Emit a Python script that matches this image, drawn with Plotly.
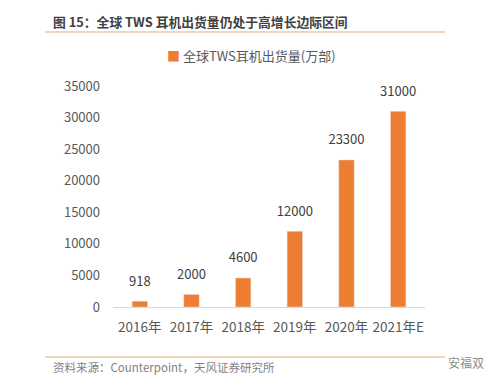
import plotly.graph_objects as go

categories = ["2016年", "2017年", "2018年", "2019年", "2020年", "2021年E"]
values = [918, 2000, 4600, 12000, 23300, 31000]
series_name = "全球TWS耳机出货量(万部)"
tick_vals = [0, 5000, 10000, 15000, 20000, 25000, 30000, 35000]
tick_text = [str(v) for v in tick_vals]

FONT = "Noto Sans CJK SC"
OFF = 8  # page body margin
W, H = 500, 383
L = 113 - OFF
T = 86 - OFF
B = H - (307 - OFF)
R = W - (425 - OFF)
pw, ph = W - L - R, H - T - B

def px(x):
    return (x - OFF - L) / pw

def py(y):
    return (H - B - (y - OFF)) / ph

fig = go.Figure()
fig.add_trace(go.Bar(
    x=categories, y=values, name=series_name,
    marker_color="#ED7D31", width=0.3, showlegend=False,
))
fig.add_trace(go.Scatter(
    x=categories, y=values, mode="markers+text",
    marker=dict(size=18, opacity=0), text=[str(v) for v in values],
    textposition="top center", textfont=dict(family=FONT, size=13, color="#404040"),
    cliponaxis=False, showlegend=False, hoverinfo="skip",
))

fig.update_layout(
    width=W, height=H, autosize=False,
    margin=dict(l=L, r=R, t=T, b=B),
    paper_bgcolor="white", plot_bgcolor="white",
    font=dict(family=FONT, color="#595959"),
    xaxis=dict(showgrid=False, showline=True, linecolor="#D9D9D9", linewidth=1,
               ticks="", ticklabelstandoff=8, tickfont=dict(family=FONT, size=13.5, color="#595959")),
    yaxis=dict(range=[0, 35000], tickvals=tick_vals, ticktext=tick_text, showgrid=False, zeroline=False,
               showline=False, ticks="", ticklabelstandoff=12,
               tickfont=dict(family=FONT, size=13, color="#595959")),
)

fig.add_annotation(text="<span style='color:#ED7D31'>■</span> " + series_name,
                   xref="paper", yref="paper", x=px(165), y=py(55), xanchor="left", yanchor="middle",
                   showarrow=False, font=dict(family=FONT, size=13, color="#595959"))
fig.add_annotation(text="<b>图 15：全球 TWS 耳机出货量仍处于高增长边际区间</b>",
                   xref="paper", yref="paper", x=px(51), y=py(22), xanchor="left", yanchor="middle",
                   showarrow=False, font=dict(family=FONT, size=12.8, color="#404040"))
fig.add_shape(type="line", xref="paper", yref="paper", x0=px(45), x1=px(445), y0=py(32), y1=py(32),
              line=dict(color="#E8C9A0", width=1.5))
fig.add_shape(type="line", xref="paper", yref="paper", x0=px(45), x1=px(445), y0=py(357), y1=py(357),
              line=dict(color="#E8C9A0", width=1.5))
fig.add_annotation(text="资料来源：Counterpoint，天风证券研究所",
                   xref="paper", yref="paper", x=px(51), y=py(367), xanchor="left", yanchor="middle",
                   showarrow=False, font=dict(family=FONT, size=11.5, color="#7F7F7F"))
fig.add_annotation(text="安福双",
                   xref="paper", yref="paper", x=px(486), y=py(362), xanchor="right", yanchor="middle",
                   showarrow=False, font=dict(family=FONT, size=12, color="#8C8C8C"))

fig.write_html("out.html")
